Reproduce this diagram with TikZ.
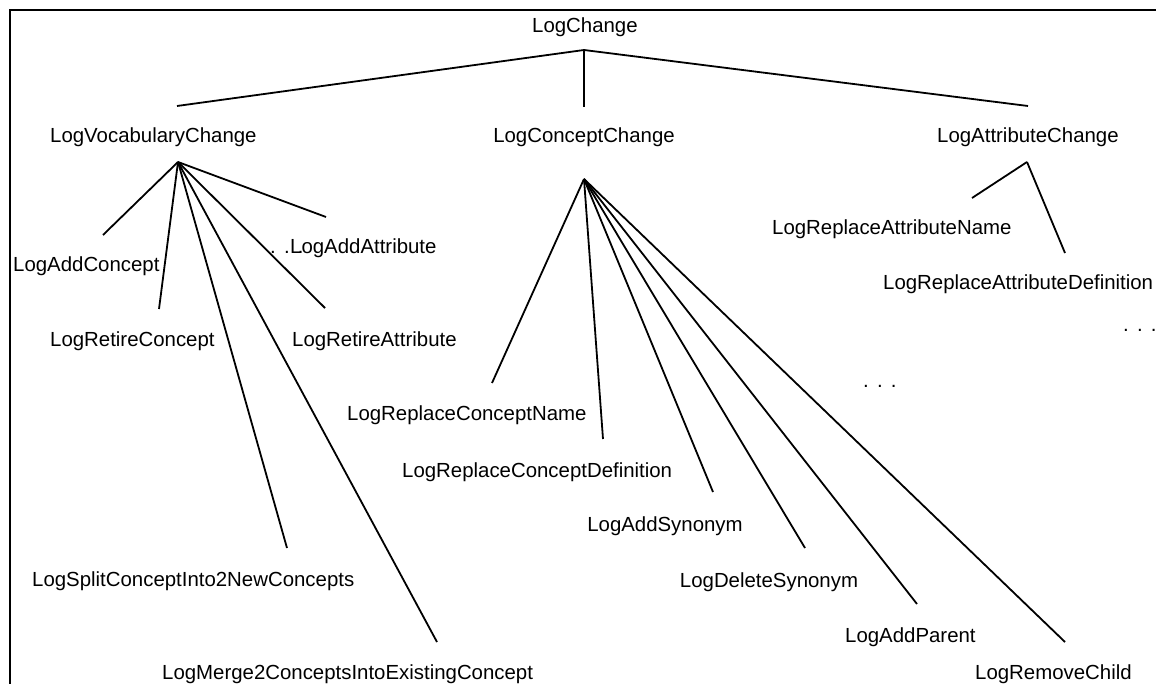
\documentclass[tikz,border=0pt]{standalone}
\usepackage{fontspec}
\setmainfont{Liberation Sans}
\begin{document}
\begin{tikzpicture}[x=1pt,y=-1pt,
  lbl/.style={anchor=base west,inner sep=0pt,font=\fontsize{20.4}{24}\selectfont},
  clbl/.style={anchor=base,inner sep=0pt,font=\fontsize{20.4}{24}\selectfont},
  dots/.style={anchor=base west,inner sep=0pt,font=\fontsize{20.4}{24}\selectfont},
  edge/.style={line width=1.8pt},
  frameline/.style={line width=2.5pt}]
\useasboundingbox (0,0) rectangle (1156,684);
% frame (only left and top edges visible)
\coordinate (fbl) at (10,684);
\coordinate (ftl) at (10,10);
\coordinate (ftr) at (1156,10);
\draw[frameline] (fbl) -- (ftl) -- (ftr);

% labels
\node[lbl] (root) at (532,33) {LogChange};
\node[lbl] (voc) at (50,143) {LogVocabularyChange};
\node[clbl] (con) at (584,143) {LogConceptChange};
\node[lbl] (att) at (937,143) {LogAttributeChange};

\node[lbl] (addc) at (13,272) {LogAddConcept};
\node[dots] (dots1) at (270,254) {.\hspace{8.2pt}.\hspace{8.2pt}.};
\node[lbl] (adda) at (290,254) {LogAddAttribute};
\node[lbl] (retc) at (50,347) {LogRetireConcept};
\node[lbl] (reta) at (292,347) {LogRetireAttribute};
\node[lbl] (split) at (32,586) {LogSplitConceptInto2NewConcepts};
\node[lbl] (merge) at (162,679) {LogMerge2ConceptsIntoExistingConcept};

\node[lbl] (rcn) at (347,420) {LogReplaceConceptName};
\node[lbl] (rcd) at (402,477) {LogReplaceConceptDefinition};
\node[clbl] (asyn) at (665,531) {LogAddSynonym};
\node[clbl] (dsyn) at (769,587) {LogDeleteSynonym};
\node[lbl] (apar) at (845,642) {LogAddParent};
\node[lbl] (rchild) at (975,679) {LogRemoveChild};
\node[dots] (dots2) at (863,387) {.\hspace{8.2pt}.\hspace{8.2pt}.};

\node[lbl] (ran) at (772,235) {LogReplaceAttributeName};
\node[lbl] (rad) at (883,290) {LogReplaceAttributeDefinition};
\node[dots] (dots3) at (1123,332) {.\hspace{8.2pt}.\hspace{8.2pt}.};

% connector end points
\coordinate (root-j) at (584,50);
\coordinate (voc-in) at (177,106);
\coordinate (con-in) at (584,107);
\coordinate (att-in) at (1028,106);
\coordinate (voc-j) at (178,162);
\coordinate (con-j) at (584,179);
\coordinate (att-j) at (1027,162);

\coordinate (addc-e) at (103,235);
\coordinate (retc-e) at (159,309);
\coordinate (adda-e) at (326,217);
\coordinate (reta-e) at (325,308);
\coordinate (split-e) at (287,548);
\coordinate (merge-e) at (437,642);

\coordinate (rcn-e) at (492,383);
\coordinate (rcd-e) at (603,439);
\coordinate (asyn-e) at (713,492);
\coordinate (dsyn-e) at (805,548);
\coordinate (apar-e) at (917,604);
\coordinate (rchild-e) at (1065,642);

\coordinate (ran-e) at (972,198);
\coordinate (rad-e) at (1065,253);

% connectors
\draw[edge] (voc-in) -- (root-j) -- (att-in);
\draw[edge] (root-j) -- (con-in);

\foreach \e in {addc-e,retc-e,adda-e,reta-e,split-e,merge-e}
  \draw[edge] (voc-j) -- (\e);
\foreach \e in {rcn-e,rcd-e,asyn-e,dsyn-e,apar-e,rchild-e}
  \draw[edge] (con-j) -- (\e);
\foreach \e in {ran-e,rad-e}
  \draw[edge] (att-j) -- (\e);
\end{tikzpicture}
\end{document}
